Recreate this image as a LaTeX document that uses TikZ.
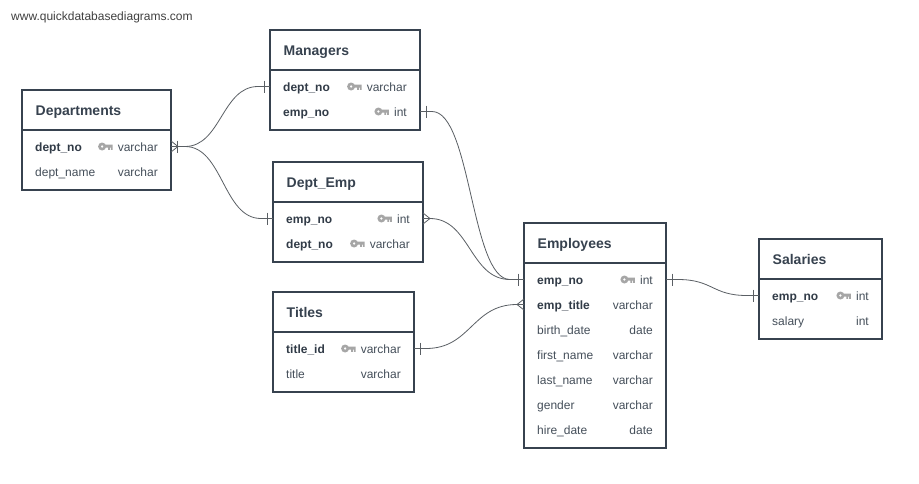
\documentclass[tikz,border=0pt]{standalone}
\usepackage{fontspec}
\setmainfont{Liberation Sans}
\usetikzlibrary{calc}
\definecolor{tblcol}{HTML}{37424F}
\definecolor{txtcol}{HTML}{454F5A}
\definecolor{conncol}{HTML}{5A5F64}
\definecolor{keycol}{HTML}{A6A6A6}
\tikzset{
  tbl/.style={draw=tblcol,line width=2pt,fill=white,anchor=north west,inner sep=0pt,outer sep=0pt},
  tbltitle/.style={anchor=west,inner sep=0pt,text height=13.5pt,text depth=3pt,font=\fontsize{14}{14}\selectfont\bfseries,text=tblcol},
  fld/.style={inner sep=0pt,text height=12pt,text depth=3pt,font=\fontsize{12}{12}\selectfont,text=txtcol},
  pk/.style={fld,font=\fontsize{12}{12}\selectfont\bfseries,text=tblcol!90!black},
  conn/.style={draw=conncol,line width=0.8pt},
  keyicon/.pic={
    \fill[keycol,even odd rule](-10.5,0)circle(4)(-10.5,0)circle(1.5);
    \fill[keycol](-8,-2)rectangle(0,1)(-4.5,1)rectangle(-2.8,3.4)(-1.7,1)rectangle(0,3.4);
  }
}
% table with header rule
\newcommand{\dbtable}[6]{
  \node[tbl,minimum width=#4pt,minimum height=#5pt](#1) at (#2,#3){};
  \draw[draw=tblcol,line width=2pt]($(#1.north west)+(0,40)$)--($(#1.north east)+(0,40)$);
  \node[tbltitle](#1T) at ($(#1.north west)+(13.5,20)$){#6};
}
\newcommand{\dbrow}[5]{
  \node[#3,anchor=west](#1-#2) at ($(#1.north west)+(13,31.5+25*#2)$){#4};
  \node[fld,anchor=east](#1-#2t) at ($(#1.north east)+(-13,31.5+25*#2)$){#5};
}
\newcommand{\dbkey}[2]{\pic at ($(#1-#2t.west)+(-5,0)$){keyicon};}
\newcommand{\onebar}[2]{\draw[conn]($(#1)+(#2,-6)$)--($(#1)+(#2,6)$);}
\newcommand{\crowfoot}[2]{\draw[conn]($(#1)+(0,-5.5)$)--($(#1)+(#2,0)$)--($(#1)+(0,5.5)$);}
\begin{document}
\begin{tikzpicture}[x=1pt,y=-1pt]
  \useasboundingbox[fill=white](0,0)rectangle(919,483);
  \node[anchor=west,inner sep=0pt,font=\fontsize{12}{12}\selectfont,text=black!75](site) at (11,17.5){www.quickdatabasediagrams.com};

  \dbtable{Departments}{22}{90}{149}{100}{Departments}
  \dbrow{Departments}{1}{pk}{dept\_no}{varchar}
  \dbrow{Departments}{2}{fld}{dept\_name}{varchar}
  \dbkey{Departments}{1}

  \dbtable{Managers}{270}{30}{150}{100}{Managers}
  \dbrow{Managers}{1}{pk}{dept\_no}{varchar}
  \dbrow{Managers}{2}{pk}{emp\_no}{int}
  \dbkey{Managers}{1}
  \dbkey{Managers}{2}

  \dbtable{DeptEmp}{273}{162}{150}{100}{Dept\_Emp}
  \dbrow{DeptEmp}{1}{pk}{emp\_no}{int}
  \dbrow{DeptEmp}{2}{pk}{dept\_no}{varchar}
  \dbkey{DeptEmp}{1}
  \dbkey{DeptEmp}{2}

  \dbtable{Titles}{273}{292}{141}{100}{Titles}
  \dbrow{Titles}{1}{pk}{title\_id}{varchar}
  \dbrow{Titles}{2}{fld}{title}{varchar}
  \dbkey{Titles}{1}

  \dbtable{Employees}{524}{223}{142}{225}{Employees}
  \dbrow{Employees}{1}{pk}{emp\_no}{int}
  \dbrow{Employees}{2}{pk}{emp\_title}{varchar}
  \dbrow{Employees}{3}{fld}{birth\_date}{date}
  \dbrow{Employees}{4}{fld}{first\_name}{varchar}
  \dbrow{Employees}{5}{fld}{last\_name}{varchar}
  \dbrow{Employees}{6}{fld}{gender}{varchar}
  \dbrow{Employees}{7}{fld}{hire\_date}{date}
  \dbkey{Employees}{1}

  \dbtable{Salaries}{759}{239}{123}{100}{Salaries}
  \dbrow{Salaries}{1}{pk}{emp\_no}{int}
  \dbrow{Salaries}{2}{fld}{salary}{int}
  \dbkey{Salaries}{1}

  % connector ends
  \coordinate(depR) at (Departments.east|-Departments-1);
  \coordinate(mgrL) at (Managers.west|-Managers-1);
  \coordinate(mgrR) at (Managers.east|-Managers-2);
  \coordinate(deL) at (DeptEmp.west|-DeptEmp-1);
  \coordinate(deR) at (DeptEmp.east|-DeptEmp-1);
  \coordinate(titR) at (Titles.east|-Titles-1);
  \coordinate(empL) at (Employees.west|-Employees-1);
  \coordinate(empL2) at (Employees.west|-Employees-2);
  \coordinate(empR) at (Employees.east|-Employees-1);
  \coordinate(salL) at (Salaries.west|-Salaries-1);

  \draw[conn](depR)--++(14,0)to[out=0,in=180,distance=36pt]($(mgrL)+(-12,0)$)--(mgrL);
  \draw[conn](depR)--++(14,0)to[out=0,in=180,distance=38pt]($(deL)+(-12,0)$)--(deL);
  \draw[conn](mgrR)--++(12,0)to[out=0,in=180,distance=39pt]($(empL)+(-14,0)$)--(empL);
  \draw[conn](deR)--++(7,0)to[out=0,in=180,distance=40pt]($(empL)+(-14,0)$);
  \draw[conn](titR)--++(12,0)to[out=0,in=180,distance=45pt]($(empL2)+(-7,0)$)--(empL2);
  \draw[conn](empR)--++(12,0)to[out=0,in=180,distance=35pt]($(salL)+(-12,0)$)--(salL);

  \crowfoot{depR}{7}
  \onebar{depR}{6}
  \onebar{mgrL}{-6}
  \onebar{mgrR}{6}
  \onebar{deL}{-6}
  \crowfoot{deR}{7}
  \onebar{titR}{6}
  \onebar{empL}{-6}
  \crowfoot{empL2}{-7}
  \onebar{empR}{6}
  \onebar{salL}{-6}
\end{tikzpicture}
\end{document}
